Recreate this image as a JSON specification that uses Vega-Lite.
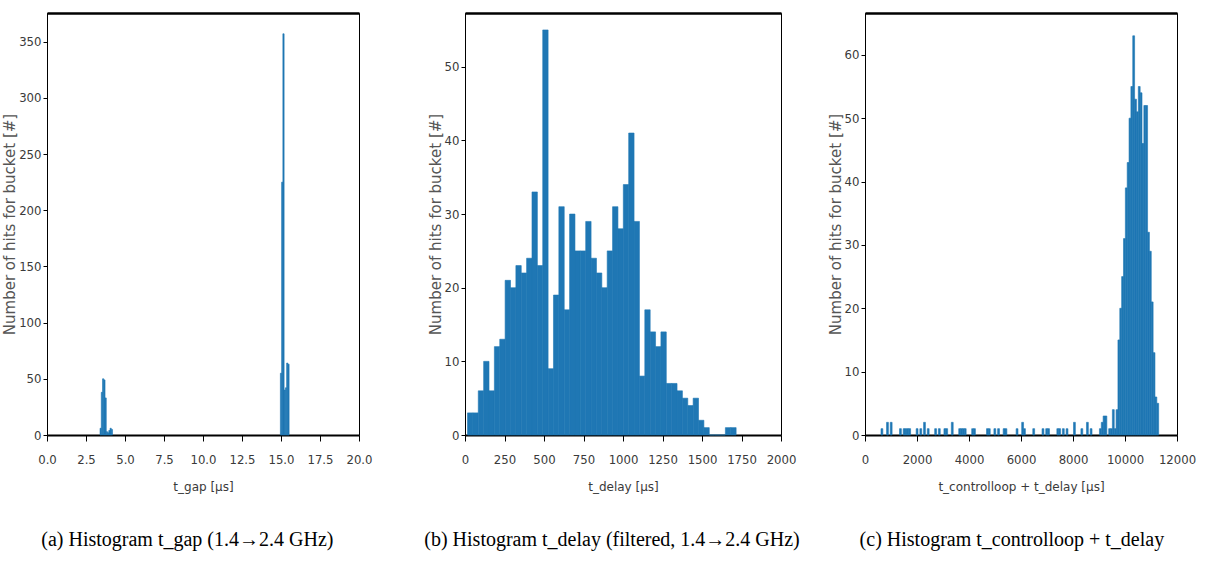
{
  "$schema": "https://vega.github.io/schema/vega-lite/v6.json",
  "background": "white",
  "padding": {"left": 2, "top": 12, "right": 0, "bottom": 0},
  "spacing": 48,
  "config": {
    "view": {"stroke": "black", "strokeWidth": 1},
    "axis": {
      "grid": false,
      "labelFont": "'Liberation Sans Narrow', 'DejaVu Sans Condensed', sans-serif",
      "labelFontSize": 13,
      "labelColor": "#3a3a3a",
      "titleFont": "'DejaVu Sans', sans-serif",
      "titleFontSize": 12,
      "titleFontWeight": "normal",
      "titleColor": "#3a3a3a",
      "tickColor": "black",
      "domainColor": "black",
      "labelOverlap": false,
      "labelFlush": false
    },
    "axisX": {"tickSize": 6, "labelPadding": 12, "titlePadding": 15, "domainWidth": 2},
    "axisY": {"tickSize": 4, "labelPadding": 2, "titlePadding": 1, "titleFontSize": 15, "titleColor": "#555555"},
    "title": {
      "orient": "bottom",
      "anchor": "middle",
      "frame": "bounds",
      "font": "'Liberation Serif', serif",
      "fontSize": 20,
      "fontWeight": "normal",
      "color": "black",
      "offset": 38
    }
  },
  "hconcat": [
    {
      "width": 312,
      "height": 422,
      "title": {"text": "(a)  Histogram t_gap (1.4→2.4 GHz)"},
      "data": {"values": [
        {"start": 3.40, "end": 3.48, "count": 6},
        {"start": 3.48, "end": 3.56, "count": 38},
        {"start": 3.56, "end": 3.64, "count": 50},
        {"start": 3.64, "end": 3.72, "count": 49},
        {"start": 3.72, "end": 3.80, "count": 33},
        {"start": 3.80, "end": 3.88, "count": 3},
        {"start": 3.88, "end": 3.96, "count": 2},
        {"start": 3.96, "end": 4.04, "count": 4},
        {"start": 4.04, "end": 4.12, "count": 6},
        {"start": 4.12, "end": 4.20, "count": 5},
        {"start": 14.96, "end": 15.04, "count": 55},
        {"start": 15.04, "end": 15.12, "count": 225},
        {"start": 15.12, "end": 15.20, "count": 357},
        {"start": 15.20, "end": 15.28, "count": 40},
        {"start": 15.28, "end": 15.36, "count": 42},
        {"start": 15.36, "end": 15.44, "count": 64},
        {"start": 15.44, "end": 15.52, "count": 63}
      ]},
      "layer": [
        {
          "mark": {"type": "bar", "color": "#1f77b4", "stroke": "#1f77b4", "strokeWidth": 0.6},
          "encoding": {
            "x": {"field": "start", "type": "quantitative", "scale": {"domain": [0, 20], "nice": false, "zero": false},
                  "axis": {"title": "t_gap [μs]", "values": [0, 2.5, 5, 7.5, 10, 12.5, 15, 17.5, 20], "format": ".1f"}},
            "x2": {"field": "end"},
            "y": {"field": "count", "type": "quantitative", "scale": {"domain": [0, 375.5], "nice": false},
                  "axis": {"title": "Number of hits for bucket [#]", "values": [0, 50, 100, 150, 200, 250, 300, 350]}},
            "y2": {"datum": 0}
          }
        },
        {
          "mark": {"type": "rule", "opacity": 0},
          "encoding": {
            "x": {"field": "start", "type": "quantitative",
                  "axis": {"orient": "top", "labels": false, "ticks": false, "title": null, "domainWidth": 2.5}}
          }
        }
      ],
      "resolve": {"axis": {"x": "independent"}}
    },
    {
      "spacing": 24,
      "hconcat": [
        {
          "width": 316,
          "height": 422,
          "title": {"text": "(b)  Histogram t_delay (filtered, 1.4→2.4 GHz)"},
          "data": {"values": [
            {"start": 16, "end": 50, "count": 3},
            {"start": 50, "end": 84, "count": 3},
            {"start": 84, "end": 118, "count": 6},
            {"start": 118, "end": 152, "count": 10},
            {"start": 152, "end": 186, "count": 6},
            {"start": 186, "end": 220, "count": 12},
            {"start": 220, "end": 254, "count": 13},
            {"start": 254, "end": 288, "count": 21},
            {"start": 288, "end": 322, "count": 20},
            {"start": 322, "end": 356, "count": 23},
            {"start": 356, "end": 390, "count": 22},
            {"start": 390, "end": 424, "count": 24},
            {"start": 424, "end": 458, "count": 33},
            {"start": 458, "end": 492, "count": 23},
            {"start": 492, "end": 526, "count": 55},
            {"start": 526, "end": 560, "count": 9},
            {"start": 560, "end": 594, "count": 19},
            {"start": 594, "end": 628, "count": 31},
            {"start": 628, "end": 662, "count": 17},
            {"start": 662, "end": 696, "count": 30},
            {"start": 696, "end": 730, "count": 25},
            {"start": 730, "end": 764, "count": 25},
            {"start": 764, "end": 798, "count": 29},
            {"start": 798, "end": 832, "count": 24},
            {"start": 832, "end": 866, "count": 22},
            {"start": 866, "end": 900, "count": 20},
            {"start": 900, "end": 934, "count": 25},
            {"start": 934, "end": 968, "count": 31},
            {"start": 968, "end": 1002, "count": 28},
            {"start": 1002, "end": 1036, "count": 34},
            {"start": 1036, "end": 1070, "count": 41},
            {"start": 1070, "end": 1104, "count": 29},
            {"start": 1104, "end": 1138, "count": 8},
            {"start": 1138, "end": 1172, "count": 17},
            {"start": 1172, "end": 1206, "count": 14},
            {"start": 1206, "end": 1240, "count": 12},
            {"start": 1240, "end": 1274, "count": 14},
            {"start": 1274, "end": 1308, "count": 7},
            {"start": 1308, "end": 1342, "count": 7},
            {"start": 1342, "end": 1376, "count": 6},
            {"start": 1376, "end": 1410, "count": 5},
            {"start": 1410, "end": 1444, "count": 4},
            {"start": 1444, "end": 1478, "count": 5},
            {"start": 1478, "end": 1512, "count": 2},
            {"start": 1512, "end": 1546, "count": 1},
            {"start": 1546, "end": 1580, "count": 0},
            {"start": 1580, "end": 1614, "count": 0},
            {"start": 1614, "end": 1648, "count": 0},
            {"start": 1648, "end": 1682, "count": 1},
            {"start": 1682, "end": 1716, "count": 1}
          ]},
          "layer": [
            {
              "mark": {"type": "bar", "color": "#1f77b4", "stroke": "#1f77b4", "strokeWidth": 0.6},
              "encoding": {
                "x": {"field": "start", "type": "quantitative", "scale": {"domain": [0, 2000], "nice": false, "zero": false},
                      "axis": {"title": "t_delay [μs]", "values": [0, 250, 500, 750, 1000, 1250, 1500, 1750, 2000], "format": "d"}},
                "x2": {"field": "end"},
                "y": {"field": "count", "type": "quantitative", "scale": {"domain": [0, 57.3], "nice": false},
                      "axis": {"title": "Number of hits for bucket [#]", "values": [0, 10, 20, 30, 40, 50]}},
                "y2": {"datum": 0}
              }
            },
            {
              "mark": {"type": "rule", "opacity": 0},
              "encoding": {
                "x": {"field": "start", "type": "quantitative",
                      "axis": {"orient": "top", "labels": false, "ticks": false, "title": null, "domainWidth": 2.5}}
              }
            }
          ],
          "resolve": {"axis": {"x": "independent"}}
        },
        {
          "width": 312,
          "height": 422,
          "title": {"text": "(c)  Histogram t_controlloop + t_delay"},
          "data": {"values": [
            {"start": 615, "end": 686.2, "count": 1},
            {"start": 828.6, "end": 899.8, "count": 2},
            {"start": 971, "end": 1042.2, "count": 2},
            {"start": 1327, "end": 1398.2, "count": 1},
            {"start": 1469.4, "end": 1540.6, "count": 1},
            {"start": 1540.6, "end": 1611.8, "count": 1},
            {"start": 1611.8, "end": 1683, "count": 1},
            {"start": 1683, "end": 1754.2, "count": 1},
            {"start": 1967.8, "end": 2039, "count": 1},
            {"start": 2110.2, "end": 2181.4, "count": 1},
            {"start": 2252.6, "end": 2323.8, "count": 2},
            {"start": 2395, "end": 2466.2, "count": 1},
            {"start": 2679.8, "end": 2751, "count": 1},
            {"start": 2822.2, "end": 2893.4, "count": 1},
            {"start": 3035.8, "end": 3107, "count": 1},
            {"start": 3107, "end": 3178.2, "count": 1},
            {"start": 3320.6, "end": 3391.8, "count": 2},
            {"start": 3605.4, "end": 3676.6, "count": 1},
            {"start": 3676.6, "end": 3747.8, "count": 1},
            {"start": 3747.8, "end": 3819, "count": 1},
            {"start": 3819, "end": 3890.2, "count": 1},
            {"start": 4103.8, "end": 4175, "count": 1},
            {"start": 4175, "end": 4246.2, "count": 1},
            {"start": 4673.4, "end": 4744.6, "count": 1},
            {"start": 4744.6, "end": 4815.8, "count": 1},
            {"start": 4958.2, "end": 5029.4, "count": 1},
            {"start": 5100.6, "end": 5171.8, "count": 1},
            {"start": 5314.2, "end": 5385.4, "count": 1},
            {"start": 5385.4, "end": 5456.6, "count": 1},
            {"start": 5812.6, "end": 5883.8, "count": 1},
            {"start": 6026.2, "end": 6097.4, "count": 2},
            {"start": 6097.4, "end": 6168.6, "count": 1},
            {"start": 6453.4, "end": 6524.6, "count": 1},
            {"start": 6809.4, "end": 6880.6, "count": 1},
            {"start": 6951.8, "end": 7023, "count": 1},
            {"start": 7023, "end": 7094.2, "count": 1},
            {"start": 7379, "end": 7450.2, "count": 1},
            {"start": 7450.2, "end": 7521.4, "count": 1},
            {"start": 7592.6, "end": 7663.8, "count": 1},
            {"start": 7735, "end": 7806.2, "count": 1},
            {"start": 8019.8, "end": 8091, "count": 2},
            {"start": 8304.6, "end": 8375.8, "count": 1},
            {"start": 8518.2, "end": 8589.4, "count": 2},
            {"start": 8660.6, "end": 8731.8, "count": 1},
            {"start": 9016.6, "end": 9087.8, "count": 1},
            {"start": 9087.8, "end": 9159, "count": 2},
            {"start": 9159, "end": 9230.2, "count": 3},
            {"start": 9230.2, "end": 9301.4, "count": 3},
            {"start": 9372.6, "end": 9443.8, "count": 1},
            {"start": 9443.8, "end": 9515, "count": 1},
            {"start": 9515, "end": 9586.2, "count": 4},
            {"start": 9586.2, "end": 9657.4, "count": 1},
            {"start": 9657.4, "end": 9728.6, "count": 4},
            {"start": 9728.6, "end": 9799.8, "count": 15},
            {"start": 9799.8, "end": 9871, "count": 20},
            {"start": 9871, "end": 9942.2, "count": 25},
            {"start": 9942.2, "end": 10013.4, "count": 31},
            {"start": 10013.4, "end": 10084.6, "count": 39},
            {"start": 10084.6, "end": 10155.8, "count": 43},
            {"start": 10155.8, "end": 10227, "count": 50},
            {"start": 10227, "end": 10298.2, "count": 55},
            {"start": 10298.2, "end": 10369.4, "count": 63},
            {"start": 10369.4, "end": 10440.6, "count": 53},
            {"start": 10440.6, "end": 10511.8, "count": 51},
            {"start": 10511.8, "end": 10583, "count": 55},
            {"start": 10583, "end": 10654.2, "count": 54},
            {"start": 10654.2, "end": 10725.4, "count": 46},
            {"start": 10725.4, "end": 10796.6, "count": 52},
            {"start": 10796.6, "end": 10867.8, "count": 52},
            {"start": 10867.8, "end": 10939, "count": 32},
            {"start": 10939, "end": 11010.2, "count": 29},
            {"start": 11010.2, "end": 11081.4, "count": 21},
            {"start": 11081.4, "end": 11152.6, "count": 13},
            {"start": 11152.6, "end": 11223.8, "count": 6},
            {"start": 11223.8, "end": 11295, "count": 5}
          ]},
          "layer": [
            {
              "mark": {"type": "bar", "color": "#1f77b4", "stroke": "#1f77b4", "strokeWidth": 0.6},
              "encoding": {
                "x": {"field": "start", "type": "quantitative", "scale": {"domain": [0, 12000], "nice": false, "zero": false},
                      "axis": {"title": "t_controlloop + t_delay [μs]", "values": [0, 2000, 4000, 6000, 8000, 10000, 12000], "format": "d"}},
                "x2": {"field": "end"},
                "y": {"field": "count", "type": "quantitative", "scale": {"domain": [0, 66.6], "nice": false},
                      "axis": {"title": "Number of hits for bucket [#]", "values": [0, 10, 20, 30, 40, 50, 60]}},
                "y2": {"datum": 0}
              }
            },
            {
              "mark": {"type": "rule", "opacity": 0},
              "encoding": {
                "x": {"field": "start", "type": "quantitative",
                      "axis": {"orient": "top", "labels": false, "ticks": false, "title": null, "domainWidth": 2.5}}
              }
            }
          ],
          "resolve": {"axis": {"x": "independent"}}
        }
      ]
    }
  ]
}
